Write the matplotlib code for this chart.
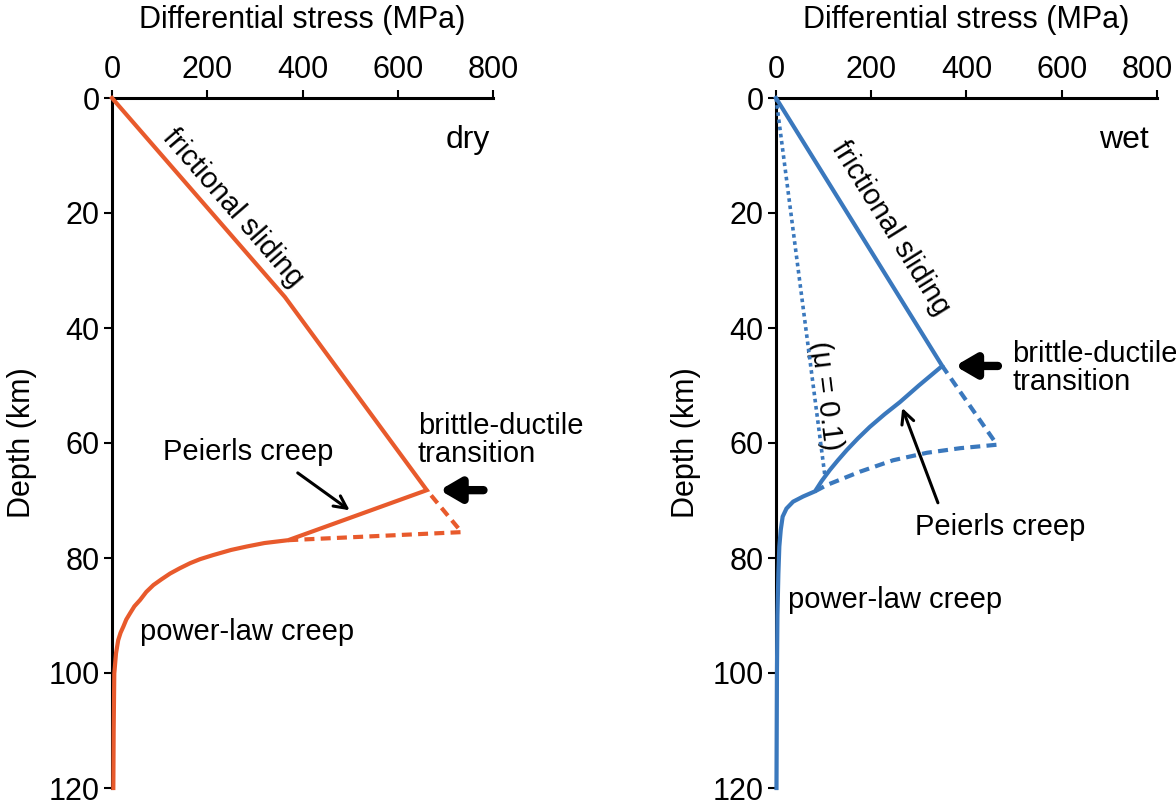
import matplotlib
matplotlib.use("Agg")
import matplotlib.pyplot as plt
import matplotlib.transforms as mtransforms

plt.rcParams['font.family'] = ['Liberation Sans', 'DejaVu Sans']

# dry profile (stress MPa, depth km)
dry_x = [0, 363, 661, 370, 320, 283, 250, 212, 185, 164, 142, 122, 104, 87, 72, 59, 47, 38,
         30, 24, 18, 13, 8.4, 4.8, 3.5, 2.8]
dry_y = [0, 34.6, 68.2, 76.9, 77.4, 78.0, 78.6, 79.5, 80.2, 80.9, 81.8, 82.7, 83.7, 84.7, 85.9,
         87.3, 88.4, 89.6, 90.7, 91.9, 93.0, 94.3, 96.6, 100.1, 110, 120]
dry_dash_x = [370, 734, 661]
dry_dash_y = [76.9, 75.5, 68.2]

# wet profile
wet_x = [0, 349, 300, 260, 228, 197, 172, 149, 130, 113, 96, 82, 57, 36, 22, 14, 10, 7, 5, 3, 2, 1]
wet_y = [0, 46.6, 50.0, 52.9, 55.0, 57.2, 59.2, 61.2, 63.0, 64.7, 66.6, 68.4, 69.3, 70.2, 71.4,
         72.8, 75.1, 78.0, 82.7, 90, 100, 120]
wet_dash_x = [82, 107, 176, 246, 317, 387, 464, 349]
wet_dash_y = [68.4, 67.3, 65.0, 63.0, 61.7, 60.9, 60.3, 46.6]
wet_dot_x = [0, 103]
wet_dot_y = [0, 65.9]

x_ticks = [0, 200, 400, 600, 800]
y_ticks = [0, 20, 40, 60, 80, 100, 120]

orange = '#e85a2c'
blue = '#3a78bd'
fs = 22
fa = 21

fig = plt.figure(figsize=(11.76, 8), dpi=100)
ax1 = fig.add_axes([112/1176, 12/800, 381/1176, 690/800])
ax2 = fig.add_axes([776/1176, 12/800, 381/1176, 690/800])


def style(ax):
    ax.set_xlim(0, 800)
    ax.set_ylim(120, 0)
    ax.xaxis.tick_top()
    ax.xaxis.set_label_position('top')
    ax.set_xticks(x_ticks)
    ax.set_yticks(y_ticks)
    for s in ['right', 'bottom']:
        ax.spines[s].set_visible(False)
    for s in ['left', 'top']:
        ax.spines[s].set_linewidth(2.2)
    ax.tick_params(width=1.5, length=6, labelsize=fs, pad=3)
    ax.set_xlabel('Differential stress (MPa)', fontsize=fs, labelpad=20)
    ax.set_ylabel('Depth (km)', fontsize=fs, labelpad=8)


style(ax1)
style(ax2)

# keep the last "800" inside the figure
fig.canvas.draw()
lab = ax2.get_xticklabels()[-1]
lab.set_transform(lab.get_transform() + mtransforms.ScaledTranslation(-10/100, 0, fig.dpi_scale_trans))

big_arrow = dict(arrowstyle='-|>,head_length=1.2,head_width=0.7', lw=6,
                 color='black', shrinkA=0, shrinkB=0)
thin_arrow = dict(arrowstyle='->,head_length=0.9,head_width=0.45', lw=2.2, color='black',
                  shrinkA=0, shrinkB=0)

# dry
ax1.plot(dry_x, dry_y, color=orange, lw=3, zorder=5, clip_on=False, solid_joinstyle='miter')
ax1.plot(dry_dash_x, dry_dash_y, color=orange, lw=3, ls=(0, (2.4, 1.5)), zorder=5, clip_on=False)
ax1.text(793, 7.3, 'dry', fontsize=fs + 1, ha='right', va='center')
ax1.text(254, 19.1, 'frictional sliding', fontsize=fa, rotation=-49,
         ha='center', va='center', rotation_mode='anchor')
ax1.text(285, 61.6, 'Peierls creep', fontsize=fa, ha='center', va='center')
ax1.annotate('', xy=(499, 71.7), xytext=(390, 65.2), arrowprops=thin_arrow)
ax1.text(642, 59.5, 'brittle-ductile\ntransition', fontsize=fa, ha='left', va='center',
         linespacing=1.0)
ax1.annotate('', xy=(688, 68.2), xytext=(780, 68.2), annotation_clip=False, arrowprops=big_arrow)
ax1.text(59, 92.9, 'power-law creep', fontsize=fa, ha='left', va='center')

# wet
ax2.plot(wet_x, wet_y, color=blue, lw=3, zorder=5, clip_on=False, solid_joinstyle='miter')
ax2.plot(wet_dash_x, wet_dash_y, color=blue, lw=3, ls=(0, (2.4, 1.5)), zorder=5, clip_on=False)
ax2.plot(wet_dot_x, wet_dot_y, color=blue, lw=2.6, ls=(0, (1, 1)), zorder=5, clip_on=False)
ax2.text(782, 7.3, 'wet', fontsize=fs + 1, ha='right', va='center')
ax2.text(240, 22.6, 'frictional sliding', fontsize=fa, rotation=-58,
         ha='center', va='center', rotation_mode='anchor')
ax2.text(105, 51.7, '(μ = 0.1)', fontsize=fa, rotation=-83,
         ha='center', va='center', rotation_mode='anchor')
ax2.text(496, 47, 'brittle-ductile\ntransition', fontsize=fa, ha='left', va='center',
         linespacing=1.0)
ax2.annotate('', xy=(376, 46.6), xytext=(466, 46.6), annotation_clip=False, arrowprops=big_arrow)
ax2.annotate('', xy=(265, 53.9), xytext=(340, 70.4), arrowprops=thin_arrow)
ax2.text(471, 74.6, 'Peierls creep', fontsize=fa, ha='center', va='center')
ax2.text(25, 87.3, 'power-law creep', fontsize=fa, ha='left', va='center')

fig.savefig('out.png', dpi=100)
